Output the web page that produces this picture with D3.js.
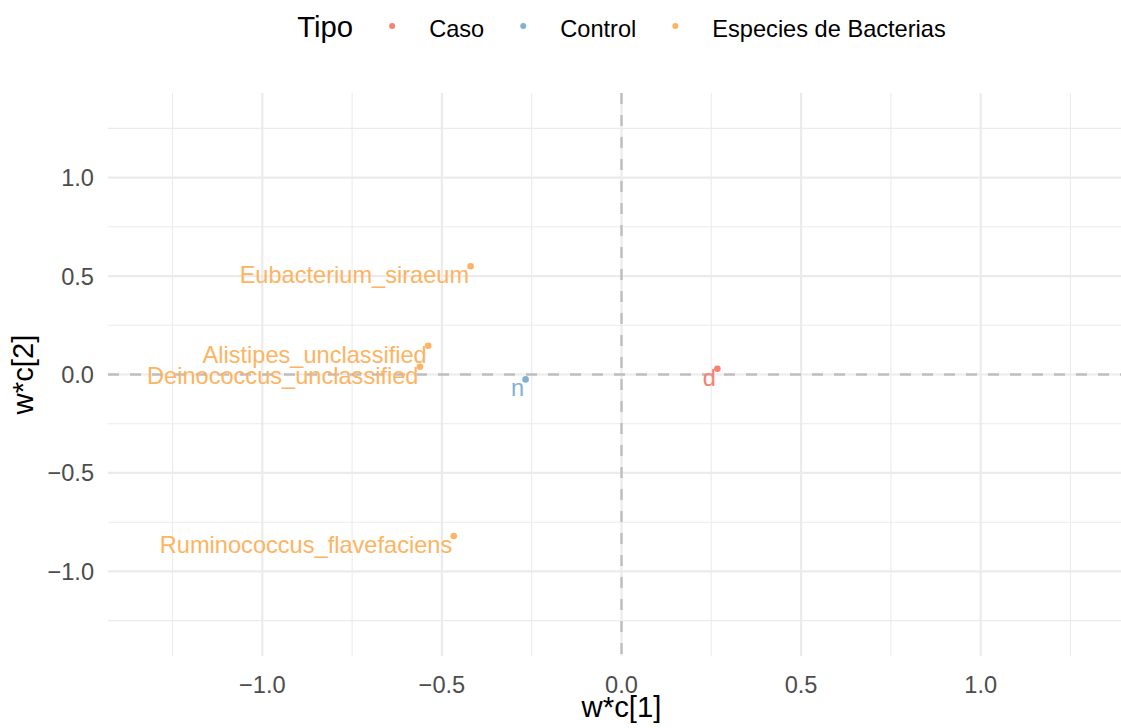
<!DOCTYPE html>
<html>
<head>
<meta charset="utf-8">
<script src="https://cdn.jsdelivr.net/npm/d3@7"></script>
<style>
  body { margin: 0; background: #fff; }
  svg { display: block; font-family: "Liberation Sans", Arial, Helvetica, sans-serif; }
</style>
</head>
<body>
<svg id="chart" width="1121" height="728"></svg>
<script>
'use strict';

// etiquetas de los puntos
const labels = ['Eubacterium_siraeum', 'Alistipes_unclassified', 'Deinococcus_unclassified',
  'Ruminococcus_flavefaciens', 'n', 'd'];
// coordenadas w*c[1] y w*c[2]
const xValues = [-0.420, -0.538, -0.561, -0.467, -0.267, 0.267];
const yValues = [0.550, 0.146, 0.039, -0.820, -0.025, 0.029];
const tipos = ['Especies de Bacterias', 'Especies de Bacterias', 'Especies de Bacterias',
  'Especies de Bacterias', 'Control', 'Caso'];

// leyenda y ejes
const categories = ['Caso', 'Control', 'Especies de Bacterias'];
const colors = ['#FB8072', '#80B1D3', '#FDB462'];
const majorTicks = [-1, -0.5, 0, 0.5, 1];
const minorTicks = [-1.25, -0.75, -0.25, 0.25, 0.75, 1.25];

const points = labels.map((label, i) => ({label, x: xValues[i], y: yValues[i], tipo: tipos[i]}));

const svg = d3.select('#chart');

// area del panel
const panel = {left: 108, right: 1135, top: 93, bottom: 656};
const LIM = 1.4296;

const x = d3.scaleLinear().domain([-LIM, LIM]).range([panel.left, panel.right]);
const y = d3.scaleLinear().domain([-LIM, LIM]).range([panel.bottom, panel.top]);
const color = d3.scaleOrdinal().domain(categories).range(colors);

const fmt = v => d3.format('.1f')(v).replace('-', '\u2212');

// rejilla menor
const grid = svg.append('g');
grid.selectAll('.minor-x').data(minorTicks).enter().append('line')
  .attr('x1', d => x(d)).attr('x2', d => x(d))
  .attr('y1', panel.top).attr('y2', panel.bottom)
  .attr('stroke', '#EBEBEB').attr('stroke-width', 1.1);
grid.selectAll('.minor-y').data(minorTicks).enter().append('line')
  .attr('y1', d => y(d)).attr('y2', d => y(d))
  .attr('x1', panel.left).attr('x2', panel.right)
  .attr('stroke', '#EBEBEB').attr('stroke-width', 1.1);

// rejilla mayor
grid.selectAll('.major-x').data(majorTicks).enter().append('line')
  .attr('x1', d => x(d)).attr('x2', d => x(d))
  .attr('y1', panel.top).attr('y2', panel.bottom)
  .attr('stroke', '#EBEBEB').attr('stroke-width', 2.2);
grid.selectAll('.major-y').data(majorTicks).enter().append('line')
  .attr('y1', d => y(d)).attr('y2', d => y(d))
  .attr('x1', panel.left).attr('x2', panel.right)
  .attr('stroke', '#EBEBEB').attr('stroke-width', 2.2);

// lineas discontinuas en el cero
svg.append('line')
  .attr('x1', panel.left).attr('x2', panel.right)
  .attr('y1', y(0)).attr('y2', y(0))
  .attr('stroke', '#BEBEBE').attr('stroke-width', 2.4)
  .attr('stroke-dasharray', '11,11');
svg.append('line')
  .attr('x1', x(0)).attr('x2', x(0))
  .attr('y1', panel.top).attr('y2', panel.bottom)
  .attr('stroke', '#BEBEBE').attr('stroke-width', 2.4)
  .attr('stroke-dasharray', '11,11');

// puntos
svg.selectAll('circle.pt').data(points).enter().append('circle')
  .attr('class', 'pt')
  .attr('cx', d => x(d.x)).attr('cy', d => y(d.y))
  .attr('r', 3.3)
  .attr('fill', d => color(d.tipo));

// etiquetas (hjust = 1, vjust = 1)
svg.selectAll('text.lbl').data(points).enter().append('text')
  .attr('class', 'lbl')
  .attr('x', d => x(d.x) - 1.5)
  .attr('y', d => y(d.y) + 17)
  .attr('text-anchor', 'end')
  .attr('font-size', 23.6)
  .attr('fill', d => color(d.tipo))
  .text(d => d.label);

// etiquetas de los ejes
svg.selectAll('text.xtick').data(majorTicks).enter().append('text')
  .attr('x', d => x(d)).attr('y', 693)
  .attr('text-anchor', 'middle')
  .attr('font-size', 23.6).attr('fill', '#4D4D4D')
  .text(fmt);
svg.selectAll('text.ytick').data(majorTicks).enter().append('text')
  .attr('x', 94).attr('y', d => y(d) + 8.5)
  .attr('text-anchor', 'end')
  .attr('font-size', 23.6).attr('fill', '#4D4D4D')
  .text(fmt);

// titulos de los ejes
svg.append('text')
  .attr('x', x(0)).attr('y', 717)
  .attr('text-anchor', 'middle')
  .attr('font-size', 29.3).attr('fill', '#000')
  .text('w*c[1]');
svg.append('text')
  .attr('transform', `translate(33,${y(0)}) rotate(-90)`)
  .attr('text-anchor', 'middle')
  .attr('font-size', 29.3).attr('fill', '#000')
  .text('w*c[2]');

// leyenda arriba, centrada
const legend = svg.append('g');
const title = legend.append('text')
  .attr('y', 37).attr('font-size', 29.3).attr('fill', '#000')
  .text('Tipo');
let cursor = title.node().getComputedTextLength();
const items = [];
categories.forEach(cat => {
  const dotX = cursor + 39;
  const dot = legend.append('circle')
    .attr('cx', dotX).attr('cy', 26).attr('r', 3).attr('fill', color(cat));
  const txt = legend.append('text')
    .attr('x', dotX + 37).attr('y', 36.5)
    .attr('font-size', 23.6).attr('fill', '#000')
    .text(cat);
  cursor = dotX + 37 + txt.node().getComputedTextLength();
  items.push(dot, txt);
});
legend.attr('transform', `translate(${x(0) - cursor / 2},0)`);
</script>
</body>
</html>
